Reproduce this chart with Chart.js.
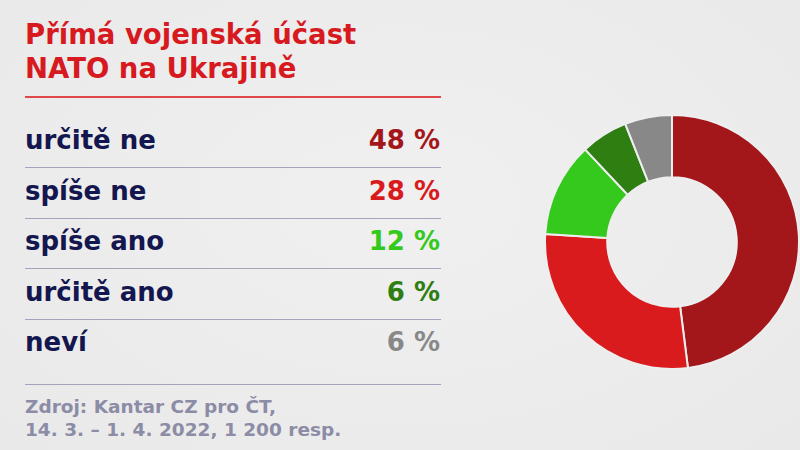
<!DOCTYPE html>
<html lang="cs">
<head>
<meta charset="utf-8">
<script src="https://cdn.jsdelivr.net/npm/chart.js@4/dist/chart.umd.min.js"></script>
<style>
  html, body { margin: 0; padding: 0; }
  body {
    width: 800px; height: 450px; overflow: hidden; position: relative;
    background: radial-gradient(ellipse at 50% 45%, #f0f0f0 0%, #e9e9e9 100%);
    font-family: "DejaVu Sans", sans-serif;
  }
  .title {
    position: absolute; left: 25px; top: 16.5px; margin: 0;
    font-size: 27.5px; font-weight: 700; line-height: 34px; color: #d71920;
  }
  .rule { position: absolute; left: 25px; width: 416px; height: 0; }
  .rule.red { top: 96px; border-top: 2px solid #e0474b; }
  .rule.grey { border-top: 1px solid #a4a4bb; }
  .row {
    position: absolute; left: 25px; width: 415px; height: 40px;
    font-size: 26px; font-weight: 700; line-height: 40px;
    display: flex; justify-content: space-between;
  }
  .row .label { color: #14164f; }
  .source {
    position: absolute; left: 25px; top: 395px; margin: 0;
    font-size: 18.5px; font-weight: 700; line-height: 23px; color: #8c8ca6;
  }
  #box { position: absolute; left: 544px; top: 114px; width: 256px; height: 256px; }
</style>
</head>
<body>
<h1 class="title">Přímá vojenská účast<br>NATO na Ukrajině</h1>
<div class="rule red"></div>
<div id="table"></div>
<p class="source">Zdroj: Kantar CZ pro ČT,<br>14. 3. – 1. 4. 2022, 1 200 resp.</p>
<div id="box"><canvas id="donut"></canvas></div>

<script>
// Data
const categories = ['určitě ne', 'spíše ne', 'spíše ano', 'určitě ano', 'neví'];
const shares = [48, 28, 12, 6, 6];
const colors = ['#a3161a', '#d91b1e', '#34c91c', '#2e7e11', '#888888'];

// Table on the left
const table = document.getElementById('table');
const rowTop = 120, rowStep = 50.5;
categories.forEach((c, i) => {
    const row = document.createElement('div');
    row.className = 'row';
    row.style.top = (rowTop + i * rowStep) + 'px';
    row.innerHTML = '<span class="label">' + c + '</span><span style="color:' + colors[i] + '">' + shares[i] + ' %</span>';
    table.appendChild(row);
    const line = document.createElement('div');
    line.className = 'rule grey';
    line.style.top = (i < categories.length - 1 ? 167 + i * rowStep : 384) + 'px';
    table.appendChild(line);
});

// Doughnut
new Chart(document.getElementById('donut'), {
    type: 'doughnut',
    data: {
        labels: categories,
        datasets: [{
            data: shares,
            backgroundColor: colors,
            borderColor: '#eeeeee',
            borderWidth: 2
        }]
    },
    options: {
        responsive: true,
        maintainAspectRatio: false,
        animation: false,
        cutout: '51%',
        layout: { padding: 0 },
        plugins: {
            legend: { display: false },
            tooltip: { enabled: false }
        }
    }
});
</script>
</body>
</html>
